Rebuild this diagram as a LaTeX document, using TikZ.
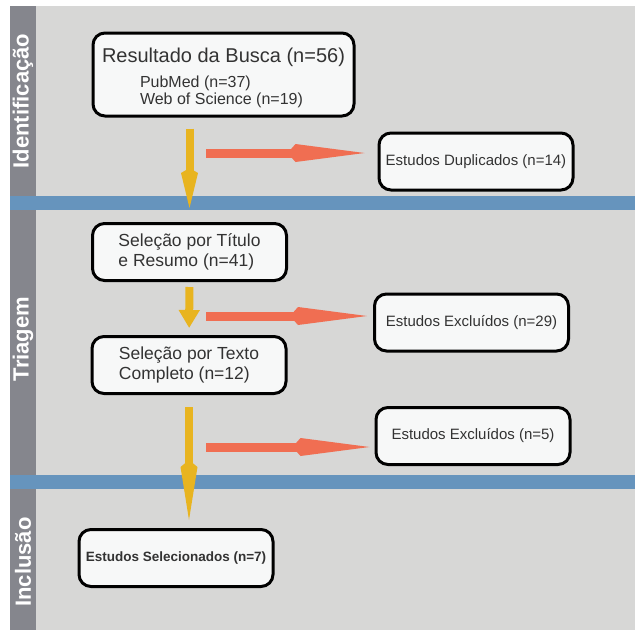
\documentclass[tikz,border=0pt]{standalone}
\usepackage{fontspec}
\setmainfont{Liberation Sans}
\usepackage{tikz}
\usetikzlibrary{arrows.meta}

\definecolor{panelgray}{HTML}{D7D7D6}
\definecolor{sidegray}{HTML}{85868D}
\definecolor{bandblue}{HTML}{6694BD}
\definecolor{arrowyellow}{HTML}{E8B420}
\definecolor{arrowred}{HTML}{F06E52}
\definecolor{boxfill}{HTML}{F7F8F8}
\definecolor{textgray}{HTML}{333333}

\begin{document}
\begin{tikzpicture}[x=1pt, y=-1pt,
    box/.style = {draw, line width=3pt, rounded corners=12pt, fill=boxfill, text=textgray,
                  minimum width=194pt, minimum height=57pt, inner sep=0pt},
    phase/.style = {rotate=90, text=white, font=\bfseries\fontsize{22}{26}\selectfont},
    down/.style = {draw=arrowyellow, line width=8pt},
    side/.style = {draw=arrowred, line width=9pt, -{Kite[length=77pt, width=18pt, inset=8pt]}}]
    \useasboundingbox (0,0) rectangle (635,630);

    % Phases
    \fill[panelgray] (10,6) rectangle (635,630);
    \fill[sidegray] (10,6) rectangle (36,630);
    \fill[bandblue] (10,196) rectangle (635,210);
    \fill[bandblue] (10,475) rectangle (635,489);

    \node[phase] (ident) at (23,101) {Identificação};
    \node[phase] (triag) at (23,339) {Triagem};
    \node[phase] (incl) at (23,562) {Inclusão};

    % Nodes

    \node[box, minimum width=261pt, minimum height=83pt, align=left,
          font=\fontsize{16}{17.5}\selectfont] (busca) at (223.5,74.5)
        {{\fontsize{20}{24}\selectfont\rule{0pt}{22pt}Resultado da Busca (n=56)}\\[7pt]
         \hspace*{38pt}PubMed (n=37)\\
         \hspace*{38pt}Web of Science (n=19)};
    \node[box, font=\fontsize{15}{18}\selectfont] (dup) at (476,161.5) {Estudos Duplicados (n=14)};

    \node[box, align=left, font=\fontsize{17.5}{20}\selectfont] (titulo) at (189.5,252)
        {Seleção por Título\\e Resumo (n=41)};
    \node[box, font=\fontsize{15}{18}\selectfont] (exc1) at (471.5,322.5) {Estudos Excluídos (n=29)};
    \node[box, align=left, font=\fontsize{17.5}{20}\selectfont] (texto) at (189,365)
        {Seleção por Texto\\Completo (n=12)};
    \node[box, font=\fontsize{15}{18}\selectfont] (exc2) at (473,436) {Estudos Excluídos (n=5)};

    \node[box, font=\bfseries\fontsize{13.5}{16}\selectfont] (sel) at (176,558) {Estudos Selecionados (n=7)};

    \coordinate (r1) at (206,153);
    \coordinate (r2) at (206,316);
    \coordinate (r3) at (206,447);

    % Edges

    \draw[down, -{Kite[length=40pt, width=17pt, inset=5pt]}, shorten <=11pt, shorten >=14pt]
        (busca.south -| titulo.north) -- (titulo.north);
    \draw[down, -{Triangle[length=18pt, width=20pt]}, shorten <=5pt, shorten >=7pt] (titulo) -- (texto);
    \draw[down, -{Kite[length=60pt, width=17pt, inset=7pt]}, shorten <=12pt, shorten >=8pt]
        (texto.south) -- (texto.south |- sel.north);

    \draw[side, shorten >=13pt] (r1) -- (r1 -| dup.west);
    \draw[side, shorten >=6pt] (r2) -- (r2 -| exc1.west);
    \draw[side, shorten >=5pt] (r3) -- (r3 -| exc2.west);

\end{tikzpicture}
\end{document}
